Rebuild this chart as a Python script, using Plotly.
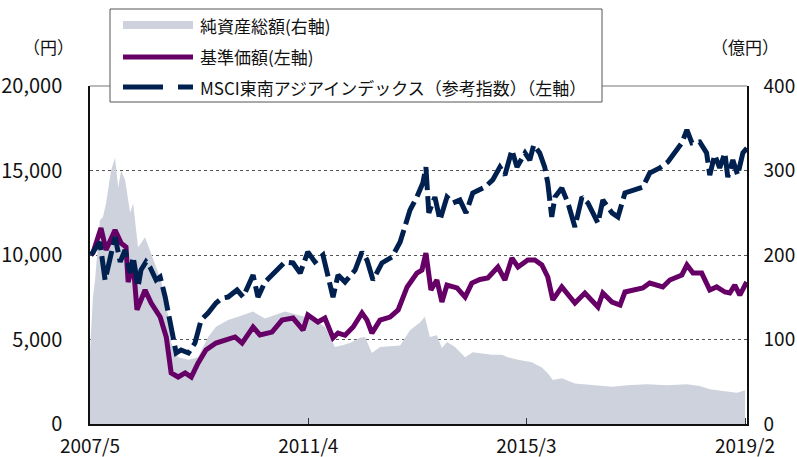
import plotly.graph_objects as go

# ---------------- data ----------------
nav_dates = ["2007-05-07","2007-05-20","2007-07-12","2007-08-14","2007-10-12","2007-11-21","2007-12-23",
 "2008-01-06","2008-02-08","2008-03-04","2008-04-26","2008-06-05","2008-08-03","2008-09-12","2008-10-14",
 "2008-11-29","2009-01-14","2009-02-23","2009-04-08","2009-05-30","2009-08-04","2009-10-22","2009-12-07",
 "2010-01-22","2010-04-04","2010-05-19","2010-08-06","2010-10-11","2010-12-22","2011-02-26","2011-03-29",
 "2011-06-03","2011-07-19","2011-09-10","2011-10-13","2011-11-28","2012-01-20","2012-03-18","2012-04-20",
 "2012-05-22","2012-07-14","2012-09-18","2012-11-10","2013-01-08","2013-03-13","2013-04-15","2013-05-11",
 "2013-06-13","2013-07-22","2013-08-24","2013-09-26","2013-12-01","2014-01-23","2014-03-08","2014-04-30",
 "2014-06-21","2014-08-26","2014-10-11","2014-11-26","2015-01-05","2015-03-10","2015-04-25","2015-06-10",
 "2015-07-19","2015-08-21","2015-10-19","2016-01-13","2016-03-18","2016-06-12","2016-07-14","2016-09-12",
 "2016-11-04","2016-12-06","2017-04-02","2017-05-17","2017-08-11","2017-09-26","2017-12-14","2018-01-16",
 "2018-02-25","2018-04-23","2018-06-15","2018-07-30","2018-09-22","2018-10-24","2018-11-26","2018-12-29",
 "2019-02-12"]
nav_values = [10000,10120,11600,10300,11480,10700,10470,
 8400,9520,6750,7930,7160,6330,5150,3020,
 2780,3020,2780,3600,4380,4790,4970,5150,
 4790,5740,5270,5440,6150,6270,5560,6450,
 6035,6270,5090,5380,5250,5740,6570,6150,
 5380,6150,6330,6750,8110,8930,9110,10120,
 7930,8520,7220,8220,8050,7510,8340,8550,
 8640,9290,8520,9820,9290,9700,9700,9410,
 8700,7340,8110,7160,7750,6920,7750,7220,
 7040,7810,8050,8340,8110,8520,8820,9410,
 8930,8930,7930,8110,7810,7750,8220,7630,
 8400]

msci_dates = ["2007-05-07","2007-07-05","2007-08-08","2007-09-10","2007-10-12","2007-11-15","2007-12-17",
 "2008-01-19","2008-02-08","2008-03-11","2008-03-30","2008-05-02","2008-05-28","2008-07-07","2008-08-03",
 "2008-09-05","2008-10-07","2008-10-27","2008-11-16","2008-12-18","2009-02-04","2009-03-19","2009-04-28",
 "2009-06-13","2009-08-04","2009-09-13","2009-10-22","2009-12-20","2010-01-29","2010-04-04","2010-05-06",
 "2010-06-21","2010-09-09","2010-10-30","2010-12-22","2011-02-07","2011-03-29","2011-05-14","2011-07-06",
 "2011-08-08","2011-09-10","2011-10-13","2011-11-28","2012-02-02","2012-03-18","2012-04-20","2012-05-29",
 "2012-07-27","2012-10-01","2012-11-23","2012-12-25","2013-01-27","2013-03-13","2013-04-21","2013-05-11",
 "2013-05-30","2013-07-09","2013-08-11","2013-09-26","2013-11-05","2013-12-20","2014-01-29","2014-03-14",
 "2014-04-30","2014-06-02","2014-07-23","2014-09-08","2014-10-11","2014-11-26","2014-12-29","2015-02-20",
 "2015-03-23","2015-04-18","2015-05-27","2015-06-29","2015-07-19","2015-08-14","2015-09-04","2015-10-19",
 "2015-11-28","2016-01-13","2016-02-28","2016-04-07","2016-06-12","2016-07-14","2016-09-12","2016-10-21",
 "2016-12-06","2017-01-28","2017-04-02","2017-05-17","2017-07-22","2017-09-13","2017-10-29","2017-12-14",
 "2018-01-16","2018-02-18","2018-04-10","2018-05-25","2018-06-15","2018-07-17","2018-08-19","2018-09-22",
 "2018-10-11","2018-11-13","2018-12-15","2019-01-18","2019-02-14"]
msci_values = [10000,10770,8520,9880,11065,9590,10300,
 8930,9880,8110,9110,9590,9290,8520,8700,
 7510,5980,4970,4200,4380,4200,4790,6150,
 6570,7160,7450,7510,7930,7510,8820,7510,
 8400,9110,9590,9530,8930,10180,9590,10000,
 8700,7510,8820,8400,9110,10180,9700,8520,
 9530,9880,10770,11660,12660,13430,14260,15200,
 12490,13430,12070,13430,13080,13250,12490,13670,
 13850,14020,14440,15200,14730,16210,15200,16040,
 15620,16510,16040,15200,14260,12250,13430,13960,
 13080,11660,13430,13080,11890,13250,12490,12250,
 13670,13850,14020,14850,15150,15500,16040,16630,
 17400,16630,16690,16040,14730,15920,15150,16040,
 14610,15620,14730,16040,16330]

asset_dates = ["2007-05-01","2007-05-20","2007-06-03","2007-07-05","2007-07-25","2007-08-14","2007-09-16",
 "2007-10-12","2007-11-02","2007-11-21","2007-12-17","2008-01-19","2008-02-08","2008-03-11","2008-04-26",
 "2008-05-28","2008-06-30","2008-08-09","2008-09-25","2008-10-14","2008-11-29","2009-02-04","2009-04-08",
 "2009-06-13","2009-08-04","2009-10-22","2009-12-27","2010-04-04","2010-06-21","2010-10-30","2011-01-24",
 "2011-04-24","2011-07-19","2011-09-23","2011-11-28","2011-12-30","2012-03-05","2012-04-07","2012-05-22",
 "2012-07-14","2012-11-23","2013-01-27","2013-04-02","2013-05-04","2013-06-06","2013-07-22","2013-08-24",
 "2013-09-26","2013-11-18","2014-01-23","2014-03-14","2014-04-30","2014-07-17","2014-09-21","2014-10-30",
 "2015-01-05","2015-04-05","2015-06-10","2015-07-19","2015-08-21","2015-10-19","2016-01-13","2016-05-03",
 "2016-09-12","2016-12-19","2017-04-28","2017-09-07","2018-01-16","2018-04-10","2018-06-15","2018-09-09",
 "2018-12-09","2019-02-01"]
asset_values = [85,150,170,241,245,261,300,
 315,280,300,289,250,261,209,221,
 206,190,170,127,96,79,76,79,
 103,115,123,127,133,125,133,129,
 125,115,91,94,96,102,103,84,
 91,93,111,120,127,103,105,90,
 97,91,79,85,84,82,82,79,
 76,73,67,60,52,54,48,46,
 44,46,47,46,47,45,41,39,
 37,40]

x_tick_vals = ["2007-05-01", "2011-04-01", "2015-03-01", "2019-02-01"]
x_tick_text = ["2007/5", "2011/4", "2015/3", "2019/2"]
left_ticks = [0, 5000, 10000, 15000, 20000]
left_tick_text = ["0", "5,000", "10,000", "15,000", "20,000"]
right_ticks = [0, 100, 200, 300, 400]

legend_labels = ["純資産総額(右軸)", "基準価額(左軸)", "MSCI東南アジアインデックス（参考指数）（左軸）"]

# ---------------- style ----------------
GREY = "#cdd2dc"
PURPLE = "#660066"
NAVY = "#00204f"
FONT = "Noto Sans CJK JP"

W, H = 797, 457
ML, MR, MT, MB = 90, 50, 86, 33
PW, PH = W - ML - MR, H - MT - MB

def px(x):
    return (x - ML) / PW

def py(y):
    return (H - MB - y) / PH

fig = go.Figure()
fig.add_trace(go.Scatter(x=asset_dates, y=asset_values, name=legend_labels[0], mode="lines",
                         line=dict(width=0, color=GREY), fill="tozeroy", fillcolor=GREY,
                         yaxis="y", showlegend=False))
fig.add_trace(go.Scatter(x=nav_dates, y=nav_values, name=legend_labels[1], mode="lines",
                         line=dict(width=5, color=PURPLE), yaxis="y2", showlegend=False))
fig.add_trace(go.Scatter(x=msci_dates, y=msci_values, name=legend_labels[2], mode="lines",
                         line=dict(width=5, color=NAVY, dash="24px,6px"), yaxis="y2", showlegend=False))

tickfont = dict(family=FONT, size=20, color="#111")
rtickfont = dict(family=FONT, size=19, color="#111")
xtickfont = dict(family=FONT, size=19, color="#111")
fig.update_layout(
    width=W, height=H, autosize=False,
    margin=dict(l=ML, r=MR, t=MT, b=MB, autoexpand=False),
    paper_bgcolor="white", plot_bgcolor="white",
    font=dict(family=FONT, color="#111"),
    xaxis=dict(type="date", range=["2007-05-01", "2019-02-14"], tickvals=x_tick_vals,
               ticktext=x_tick_text, ticks="inside", ticklen=6, tickcolor="#333", tickwidth=1,
               showline=True, linecolor="#111", linewidth=1.5, showgrid=False, zeroline=False,
               tickfont=xtickfont, ticklabelstandoff=4, automargin=False),
    yaxis=dict(side="right", range=[0, 400], tickvals=right_ticks, showgrid=False, zeroline=False,
               showline=True, linecolor="#111", linewidth=1.5, ticks="", tickfont=rtickfont,
               ticklabelstandoff=11, automargin=False),
    yaxis2=dict(side="left", overlaying="y", range=[0, 20000], tickvals=left_ticks,
                ticktext=left_tick_text, showgrid=True, griddash="dot", gridcolor="#555",
                gridwidth=1, zeroline=False, showline=True, linecolor="#111", linewidth=1.5,
                ticks="", tickfont=tickfont, ticklabelstandoff=22, automargin=False),
)

shapes = []
# top border (grey)
shapes.append(dict(type="line", xref="paper", yref="paper", x0=0, x1=1, y0=1, y1=1,
                   line=dict(color="#777", width=1)))
# legend box
shapes.append(dict(type="rect", xref="paper", yref="paper", x0=px(110), x1=px(602), y0=py(102), y1=py(9),
                   line=dict(color="#555", width=1), fillcolor="white"))
# legend symbols
shapes.append(dict(type="rect", xref="paper", yref="paper", x0=px(123), x1=px(193), y0=py(29), y1=py(21),
                   line=dict(width=0), fillcolor=GREY))
shapes.append(dict(type="line", xref="paper", yref="paper", x0=px(123), x1=px(193), y0=py(57), y1=py(57),
                   line=dict(color=PURPLE, width=5)))
shapes.append(dict(type="line", xref="paper", yref="paper", x0=px(123), x1=px(193), y0=py(87), y1=py(87),
                   line=dict(color=NAVY, width=5, dash="40px,15px")))
fig.update_layout(shapes=shapes)

legfont = dict(family=FONT, size=17, color="#111")
annotations = []
for lab, yy in zip(legend_labels, [25, 56, 87]):
    annotations.append(dict(text=lab, xref="paper", yref="paper", x=px(198), y=py(yy),
                            xanchor="left", yanchor="middle", showarrow=False, font=legfont))
annotations.append(dict(text="（円）", xref="paper", yref="paper", x=px(48), y=py(47),
                        xanchor="center", yanchor="middle", showarrow=False, font=legfont))
annotations.append(dict(text="（億円）", xref="paper", yref="paper", x=px(745), y=py(47),
                        xanchor="center", yanchor="middle", showarrow=False, font=legfont))
fig.update_layout(annotations=annotations)

fig.write_html("out.html", config={"displayModeBar": False},
               post_script="document.body.style.margin='0';document.body.style.overflow='hidden';")
